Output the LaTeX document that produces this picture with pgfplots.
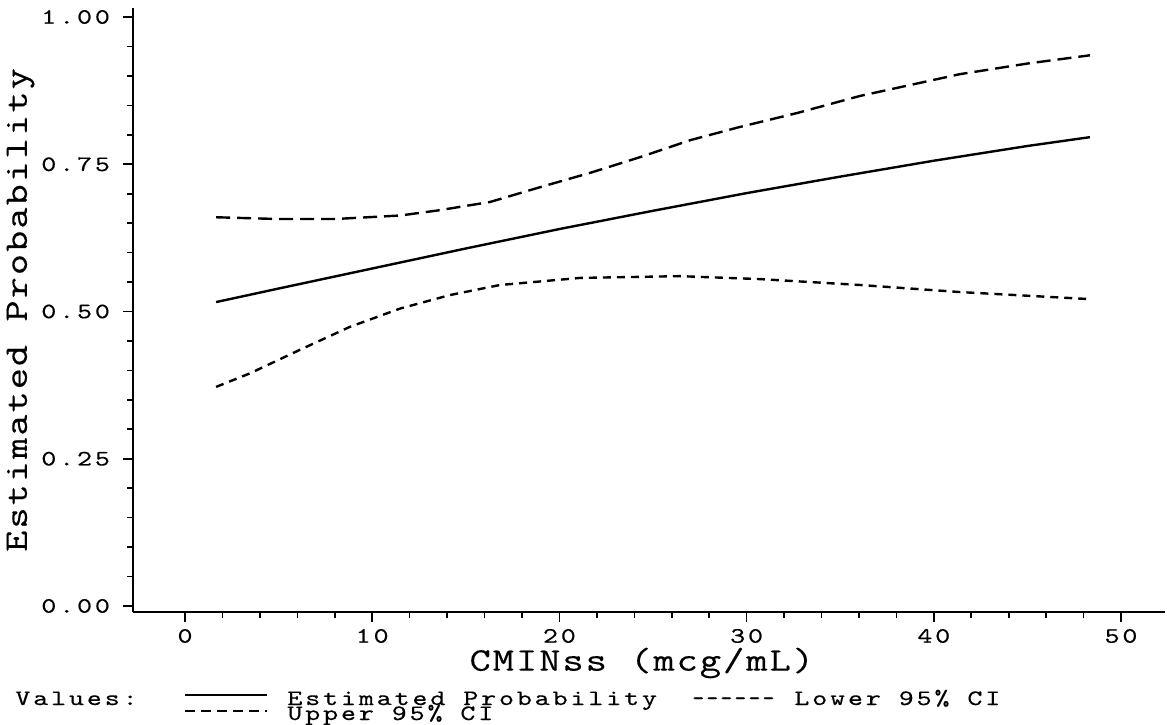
\documentclass[border=0pt]{standalone}
\usepackage{graphicx}
\usepackage{pgfplots}
\pgfplotsset{compat=1.18}
\usepackage{fontspec}
\setmainfont{Latin Modern Mono}
\newfontfamily\tickf{Latin Modern Mono}[FakeStretch=1.3, LetterSpace=13, FakeBold=0.35]
\newfontfamily\labf{Latin Modern Mono}[FakeStretch=1.25, LetterSpace=6, FakeBold=0.35]
\newcommand{\tf}{\tickf\fontsize{11bp}{13bp}\selectfont}
\newcommand{\lf}{\labf\fontsize{16.5bp}{19bp}\selectfont}
\begin{document}
\begin{tikzpicture}
\path[use as bounding box] (0,0) rectangle (583.5bp,362.5bp);
\begin{axis}[
  at={(66.5bp,56.5bp)}, anchor=south west,
  scale only axis, width=516bp, height=302bp,
  xmin=-2.78, xmax=52.35, ymin=-0.0102, ymax=1.0153,
  axis x line*=bottom, axis y line*=left,
  axis line style={line width=1bp,-},
  tick align=outside,
  major tick length=5bp, minor tick length=3bp,
  every tick/.style={line width=0.8bp,black},
  xtick={0,10,20,30,40,50}, minor x tick num=4,
  ytick={0,0.25,0.5,0.75,1}, minor y tick num=4,
  /pgf/number format/assume math mode=true,
  ticklabel style={font=\tf},
  yticklabel style={xshift=-3bp, /pgf/number format/.cd, fixed, fixed zerofill, precision=2},
  xlabel={CMINss (mcg/mL)},
  ylabel={Estimated Probability},
  xlabel style={font=\lf, at={(axis description cs:0.493,0)}, anchor=center, yshift=-25.5bp},
  ylabel style={font=\lf, at={(axis description cs:-0.109,0.5)}, anchor=center, rotate=0},
]
\addplot[black, line width=1.2bp] coordinates {
(1.66,0.516) (5,0.539) (10,0.573) (15,0.607) (20,0.640) (25,0.671) (30,0.701) (35,0.729) (40,0.756) (45,0.781) (48.34,0.796)};
\addplot[black, line width=1.2bp, dash pattern=on 7bp off 3.5bp] coordinates {
(1.66,0.660) (5,0.657) (8,0.657) (11.5,0.663) (13.6,0.672) (16.3,0.686) (18.96,0.711) (21.6,0.735) (24.3,0.762) (27.0,0.791) (29.6,0.813) (32.7,0.837) (36.06,0.866) (41.4,0.903) (45,0.921) (48.34,0.935)};
\addplot[black, line width=1.2bp, dash pattern=on 4bp off 3bp] coordinates {
(1.66,0.372) (3.47,0.395) (6.14,0.435) (8.81,0.474) (11.49,0.505) (14.16,0.528) (16.83,0.545) (21.1,0.557) (26.44,0.560) (30.72,0.555) (36.06,0.545) (41.4,0.533) (48.34,0.521)};
\end{axis}
\node[anchor=base west, inner sep=0pt, font=\tf] at (7.5bp,10bp) {Values:};
\draw[line width=1bp] (92.5bp,15bp) -- (133.5bp,15bp);
\node[anchor=base west, inner sep=0pt, font=\tf] at (143.5bp,10bp) {Estimated Probability};
\node[anchor=base west, inner sep=0pt, font=\tf] at (346bp,10bp) {\resizebox{41bp}{\height}{------}};
\node[anchor=base west, inner sep=0pt, font=\tf] at (397bp,10bp) {Lower 95\% CI};
\draw[line width=1bp, dash pattern=on 5bp off 3bp] (92.5bp,7bp) -- (133.5bp,7bp);
\node[anchor=base west, inner sep=0pt, font=\tf] at (143.5bp,2.5bp) {Upper 95\% CI};
\end{tikzpicture}
\end{document}
